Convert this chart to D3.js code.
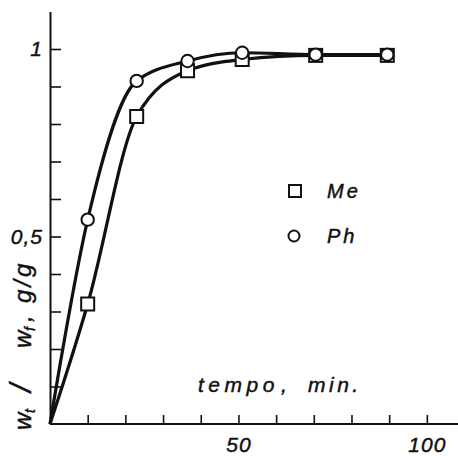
<!DOCTYPE html>
<html>
<head>
<meta charset="utf-8">
<script src="https://cdn.jsdelivr.net/npm/d3@7"></script>
<style>
  html, body { margin: 0; padding: 0; background: #fff; }
  svg { display: block; }
  text { font-family: "Liberation Sans", Arial, Helvetica, sans-serif; font-style: italic; fill: #111; stroke: #111; stroke-width: 0.45px; }
</style>
</head>
<body>
<svg id="chart" width="458" height="456"></svg>
<script>
// ---- data ----
const times = [10, 23, 36.5, 51, 70.5, 89.5];          // tempo, min.
const meValues = [0.32, 0.82, 0.942, 0.972, 0.983, 0.983];
const phValues = [0.545, 0.915, 0.968, 0.99, 0.985, 0.985];
const xTicks = [10, 20, 30, 40, 50, 60, 70, 80, 90, 100];
const xTickLabels = { 50: "50", 100: "100" };
const yTicks = [0.1, 0.2, 0.3, 0.4, 0.5, 0.6, 0.7, 0.8, 0.9, 1];
const yTickLabels = { 0.5: "0,5", 1: "1" };
const seriesNames = ["Me", "Ph"];

const svg = d3.select("#chart");
const ink = "#111";

const x = d3.scaleLinear().domain([0, 108]).range([50, 457]);
const y = d3.scaleLinear().domain([0, 1.1]).range([424, 11.5]);

// axes
const xAxis = d3.axisBottom(x)
  .tickValues(xTicks)
  .tickSizeInner(-9)
  .tickSizeOuter(0)
  .tickPadding(13)
  .tickFormat(d => xTickLabels[d] || "");
const gx = svg.append("g").attr("transform", `translate(0,${y(0)})`).call(xAxis);

const yAxis = d3.axisLeft(y)
  .tickValues(yTicks)
  .tickSizeInner(-11)
  .tickSizeOuter(0)
  .tickPadding(7)
  .tickFormat(d => yTickLabels[d] || "");
const gy = svg.append("g").attr("transform", `translate(${x(0)},0)`).call(yAxis);

[gx, gy].forEach(g => {
  g.select(".domain").attr("stroke", ink).attr("stroke-width", 2);
  g.selectAll(".tick line").attr("stroke", ink).attr("stroke-width", 1.6);
  g.selectAll(".tick text")
    .attr("fill", ink)
    .style("font-size", "21px")
    .style("font-style", "italic")
    .style("letter-spacing", "1px")
    .style("font-family", "'Liberation Sans', Arial, sans-serif");
});
gx.selectAll(".domain").attr("d", `M${x(0)},0H458`);

// curves
const line = d3.line()
  .x(d => x(d[0]))
  .y(d => y(d[1]))
  .curve(d3.curveMonotoneX);

const series = [
  { name: seriesNames[0], values: meValues, shape: "square" },
  { name: seriesNames[1], values: phValues, shape: "circle" }
];

series.forEach(s => {
  const pts = [[0, 0]].concat(times.map((t, i) => [t, s.values[i]]));
  svg.append("path")
    .datum(pts)
    .attr("d", line)
    .attr("fill", "none")
    .attr("stroke", ink)
    .attr("stroke-width", 3.2)
    .attr("stroke-linejoin", "round");
});

// markers
series.forEach(s => {
  const g = svg.append("g");
  const data = times.map((t, i) => [t, s.values[i]]);
  if (s.shape === "square") {
    g.selectAll("rect").data(data).join("rect")
      .attr("x", d => x(d[0]) - 6.5)
      .attr("y", d => y(d[1]) - 6.5)
      .attr("width", 13).attr("height", 13)
      .attr("fill", "#fff").attr("stroke", ink).attr("stroke-width", 2);
  } else {
    g.selectAll("circle").data(data).join("circle")
      .attr("cx", d => x(d[0]))
      .attr("cy", d => y(d[1]))
      .attr("r", 6.2)
      .attr("fill", "#fff").attr("stroke", ink).attr("stroke-width", 2);
  }
});

// legend
svg.append("rect").attr("x", 289).attr("y", 185).attr("width", 12).attr("height", 12)
  .attr("fill", "#fff").attr("stroke", ink).attr("stroke-width", 2);
svg.append("text").attr("x", 327).attr("y", 198).text(seriesNames[0])
  .style("font-size", "20px").style("letter-spacing", "3px");
svg.append("circle").attr("cx", 294).attr("cy", 236).attr("r", 5.5)
  .attr("fill", "#fff").attr("stroke", ink).attr("stroke-width", 2);
svg.append("text").attr("x", 327).attr("y", 243).text(seriesNames[1])
  .style("font-size", "20px").style("letter-spacing", "3px");

// x label
const xl = svg.append("text").attr("y", 392).style("font-size", "21px");
xl.append("tspan").attr("x", 198).style("letter-spacing", "4.5px").text("tempo");
xl.append("tspan").attr("x", 281).text(",");
xl.append("tspan").attr("x", 308).style("letter-spacing", "3.5px").text("min.");

// y label (rotated)
const yl = svg.append("text")
  .attr("transform", "translate(31,430) rotate(-90)")
  .style("font-size", "24px");
yl.append("tspan").attr("x", 0).attr("y", 0).text("w");
yl.append("tspan").attr("x", 17).attr("y", 4).style("font-size", "14px").text("t");
yl.append("tspan").attr("x", 38).attr("y", 0).style("font-size", "30px").text("/");
yl.append("tspan").attr("x", 82).attr("y", 0).text("w");
yl.append("tspan").attr("x", 99).attr("y", 4).style("font-size", "14px").text("f");
yl.append("tspan").attr("x", 108).attr("y", 0).text(",");
yl.append("tspan").attr("x", 127).attr("y", 0).style("letter-spacing", "3px").text("g/g");
</script>
</body>
</html>
